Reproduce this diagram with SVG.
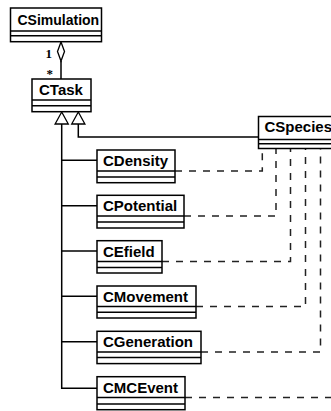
<svg xmlns="http://www.w3.org/2000/svg" width="331" height="411" viewBox="0 0 331 411">
<style>
.box{fill:#fff;stroke:#000;stroke-width:1.5}
.sep{stroke:#000;stroke-width:1.5;fill:none}
.name{font-family:"Liberation Sans",Arial,Helvetica,sans-serif;font-weight:bold;font-size:15px;fill:#000}
.solid{stroke:#000;stroke-width:1.5;fill:none}
.dash{stroke:#222;stroke-width:1.5;fill:none;stroke-dasharray:7 7}
.head{fill:#fff;stroke:#000;stroke-width:1.3}
.mult{font-family:"Liberation Serif","Times New Roman",serif;font-weight:bold;font-size:13px;fill:#000}
</style>
<rect width="331" height="411" fill="#fff"/>
<g id="connectors">
  <path class="solid" d="M61,61 V79"/>
  <path class="head" d="M61,42 L64.5,51.5 L61,61 L57.5,51.5 Z"/>
  <text class="mult" x="45.5" y="57.5">1</text>
  <text class="mult" x="46.5" y="78">*</text>
  <path class="solid" d="M61.7,124 V388.3 H97"/>
  <path class="solid" d="M61.7,160.3 H97"/>
  <path class="solid" d="M61.7,205.7 H97"/>
  <path class="solid" d="M61.7,251 H97"/>
  <path class="solid" d="M61.7,296.3 H97"/>
  <path class="solid" d="M61.7,341.7 H97"/>
  <path class="solid" d="M78.3,124 V137 H258.5"/>
  <path class="head" d="M61.7,112 L68.3,124 L55.1,124 Z"/>
  <path class="head" d="M78.3,112 L84.9,124 L71.7,124 Z"/>
  <path class="dash" d="M175,171 H262.3 V149"/>
  <path class="dash" d="M184,216 H276 V149"/>
  <path class="dash" d="M162,261.5 H290.5 V149"/>
  <path class="dash" d="M196,306.5 H305.5 V149"/>
  <path class="dash" d="M201,352 H320.5 V149"/>
  <path class="dash" d="M185,397.5 H335"/>
</g>
<g id="CSimulation">
  <rect class="box" x="10.5" y="8" width="91" height="33.7"/>
  <path class="sep" d="M10.5,31 H101.5 M10.5,35.7 H101.5"/>
  <text class="name" x="17.5" y="25" style="font-size:14px">CSimulation</text>
</g>
<g id="CTask">
  <rect class="box" x="32" y="79" width="59" height="32.7"/>
  <path class="sep" d="M32,100 H91 M32,105.7 H91"/>
  <text class="name" x="39" y="95.3">CTask</text>
</g>
<g id="CSpecies">
  <rect class="box" x="258.5" y="116.5" width="90" height="32"/>
  <path class="sep" d="M258.5,139.5 H348.5 M258.5,143.7 H348.5"/>
  <text class="name" x="264.5" y="131.8">CSpecies</text>
</g>
<g id="CDensity">
  <rect class="box" x="97" y="150" width="78" height="32.7"/>
  <path class="sep" d="M97,171 H175 M97,177 H175"/>
  <text class="name" x="103" y="166">CDensity</text>
</g>
<g id="CPotential">
  <rect class="box" x="97" y="195.3" width="87" height="32.7"/>
  <path class="sep" d="M97,216 H184 M97,222 H184"/>
  <text class="name" x="103" y="211.3">CPotential</text>
</g>
<g id="CEfield">
  <rect class="box" x="97" y="240.7" width="65" height="32.3"/>
  <path class="sep" d="M97,261.5 H162 M97,267.5 H162"/>
  <text class="name" x="103" y="256.7">CEfield</text>
</g>
<g id="CMovement">
  <rect class="box" x="97" y="286" width="99" height="32"/>
  <path class="sep" d="M97,306.5 H196 M97,312.2 H196"/>
  <text class="name" x="103" y="302">CMovement</text>
</g>
<g id="CGeneration">
  <rect class="box" x="97" y="331.3" width="104" height="32.3"/>
  <path class="sep" d="M97,352 H201 M97,357.6 H201"/>
  <text class="name" x="103" y="347.3">CGeneration</text>
</g>
<g id="CMCEvent">
  <rect class="box" x="97" y="376.7" width="88" height="33"/>
  <path class="sep" d="M97,397.5 H185 M97,404 H185"/>
  <text class="name" x="103" y="392.7">CMCEvent</text>
</g>
</svg>
